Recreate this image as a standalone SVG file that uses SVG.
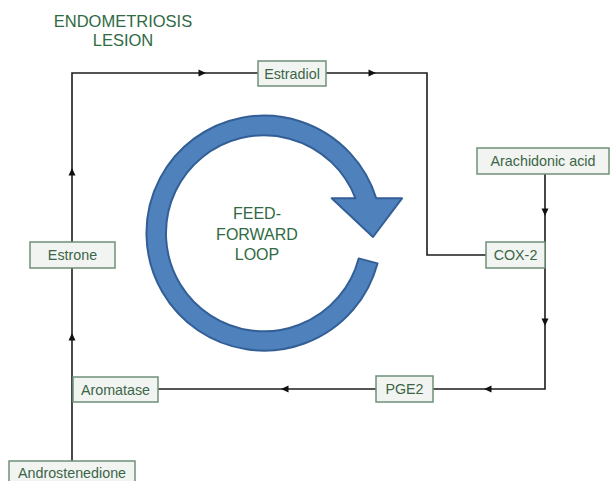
<svg xmlns="http://www.w3.org/2000/svg" width="610" height="481" viewBox="0 0 610 481">
<style>
.box{fill:#f2f4f2;stroke:#6f9079;stroke-width:1.5}
.lbl{font-family:"Liberation Sans",Arial,sans-serif;font-size:14.3px;fill:#3b6547;text-anchor:middle}
.ttl{font-family:"Liberation Sans",Arial,sans-serif;font-size:16.5px;fill:#2f6a43;text-anchor:middle}
.wire{fill:none;stroke:#1c1c1c;stroke-width:1.6}
.ah{fill:#111}
</style>
<defs>
<path id="ah" d="M4,0 L-3.5,-3.5 L-3.5,3.5 Z"/>
</defs>
<rect width="610" height="481" fill="#ffffff"/>
<g id="title">
<text class="ttl" x="123" y="27">ENDOMETRIOSIS</text>
<text class="ttl" x="123" y="46">LESION</text>
</g>
<g id="loop">
<path d="M358.7,258.4 L377.5,263.4 A117.5,117.5 0 1 1 376.2,198.3 L402,198.3 L373,237 L331.7,198.3 L355.5,198.3 A98,98 0 1 0 358.7,258.4 Z" fill="#4f81bd" stroke="#335f96" stroke-width="2" stroke-linejoin="round"/>
<text class="ttl" style="font-size:16px;fill:#2f6a43" x="257" y="219">FEED-</text>
<text class="ttl" style="font-size:16px;fill:#2f6a43" x="257" y="240">FORWARD</text>
<text class="ttl" style="font-size:16px;fill:#2f6a43" x="257" y="260">LOOP</text>
</g>
<g id="connectors">
<path class="wire" d="M72,461 V268"/>
<path class="wire" d="M72,242 V73 H258"/>
<path class="wire" d="M326,73 H427 V255 H486"/>
<path class="wire" d="M545,174 V389 H433"/>
<path class="wire" d="M376,389 H158"/>
<use href="#ah" class="ah" transform="translate(72,337) rotate(-90)"/>
<use href="#ah" class="ah" transform="translate(72,172) rotate(-90)"/>
<use href="#ah" class="ah" transform="translate(202,73)"/>
<use href="#ah" class="ah" transform="translate(372,73)"/>
<use href="#ah" class="ah" transform="translate(545,212) rotate(90)"/>
<use href="#ah" class="ah" transform="translate(545,322) rotate(90)"/>
<use href="#ah" class="ah" transform="translate(488,389) rotate(180)"/>
<use href="#ah" class="ah" transform="translate(285,389) rotate(180)"/>
</g>
<g id="estradiol"><rect class="box" x="258" y="61" width="68" height="25"/><text class="lbl" x="292" y="78.5">Estradiol</text></g>
<g id="arachidonic"><rect class="box" x="477" y="148" width="132" height="26"/><text class="lbl" x="543" y="166">Arachidonic acid</text></g>
<g id="cox2"><rect class="box" x="486" y="242" width="59" height="26"/><text class="lbl" x="515.5" y="260">COX-2</text></g>
<g id="pge2"><rect class="box" x="376" y="376" width="57" height="26"/><text class="lbl" x="404.5" y="394">PGE2</text></g>
<g id="aromatase"><rect class="box" x="73" y="377" width="85" height="25"/><text class="lbl" x="115.5" y="394.5">Aromatase</text></g>
<g id="estrone"><rect class="box" x="30" y="242" width="85" height="26"/><text class="lbl" x="72.5" y="260">Estrone</text></g>
<g id="androstenedione"><rect class="box" x="9" y="461" width="126" height="26"/><text class="lbl" x="72" y="478">Androstenedione</text></g>
</svg>
